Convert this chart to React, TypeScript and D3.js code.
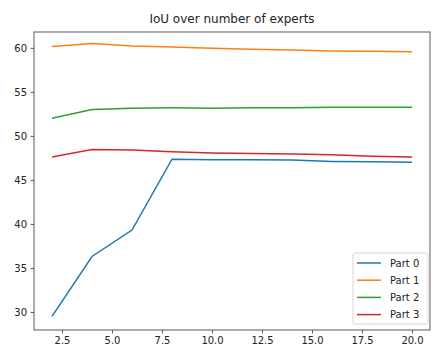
import { useEffect, useRef } from "react";
import { select, scaleLinear, line, axisBottom, axisLeft } from "d3";

const experts = [2, 4, 6, 8, 10, 12, 14, 16, 18, 20];
const part0 = [29.5, 36.3, 39.3, 47.35, 47.3, 47.3, 47.25, 47.1, 47.05, 47.0];
const part1 = [60.15, 60.5, 60.2, 60.1, 59.95, 59.85, 59.75, 59.65, 59.6, 59.55];
const part2 = [52.0, 53.0, 53.15, 53.2, 53.15, 53.2, 53.2, 53.25, 53.25, 53.25];
const part3 = [47.6, 48.45, 48.4, 48.2, 48.05, 48.0, 47.95, 47.85, 47.7, 47.6];
const seriesNames = ["Part 0", "Part 1", "Part 2", "Part 3"];
const xTicks = [2.5, 5.0, 7.5, 10.0, 12.5, 15.0, 17.5, 20.0];
const yTicks = [30, 35, 40, 45, 50, 55, 60];

const App = () => {
  const ref = useRef<HTMLDivElement>(null);

  useEffect(() => {
    if (!ref.current) return;
    ref.current.innerHTML = "";
    const W = 432, H = 347;
    const left = 34, right = 430, top = 32, bottom = 330;

    const svg = select(ref.current)
      .append("svg")
      .attr("width", W)
      .attr("height", H)
      .style("display", "block")
      .style("font-family", "DejaVu Sans, sans-serif");

    svg.append("rect").attr("width", W).attr("height", H).attr("fill", "#fff");

    const x = scaleLinear().domain([1.1, 20.9]).range([left, right]);
    const y = scaleLinear().domain([27.95, 61.8]).range([bottom, top]);

    // axes
    const xa = svg
      .append("g")
      .attr("transform", `translate(0,${bottom})`)
      .call(axisBottom(x).tickValues(xTicks).tickFormat((d) => (+d).toFixed(1)).tickSize(3.5).tickPadding(3.5));
    const ya = svg
      .append("g")
      .attr("transform", `translate(${left},0)`)
      .call(axisLeft(y).tickValues(yTicks).tickFormat((d) => String(d)).tickSize(3.5).tickPadding(3.5));
    [xa, ya].forEach((g) => {
      g.select(".domain").remove();
      g.selectAll("line").attr("stroke", "#333").attr("stroke-width", 0.8);
      g.selectAll("text").attr("fill", "#222").style("font-size", "10px").style("font-family", "DejaVu Sans, sans-serif");
    });

    // frame
    svg
      .append("rect")
      .attr("x", left)
      .attr("y", top)
      .attr("width", right - left)
      .attr("height", bottom - top)
      .attr("fill", "none")
      .attr("stroke", "#333")
      .attr("stroke-width", 0.8);

    const data = [part0, part1, part2, part3];
    const colors = ["#1f77b4", "#ff7f0e", "#2ca02c", "#d62728"];
    const l = line<number>()
      .x((_, i) => x(experts[i]))
      .y((d) => y(d));

    data.forEach((d, i) => {
      svg
        .append("path")
        .datum(d)
        .attr("d", l)
        .attr("fill", "none")
        .attr("stroke", colors[i])
        .attr("stroke-width", 1.5);
    });

    // title
    svg
      .append("text")
      .attr("x", (left + right) / 2)
      .attr("y", 23)
      .attr("text-anchor", "middle")
      .style("font-size", "12px")
      .attr("fill", "#222")
      .text("IoU over number of experts");

    // legend
    const lg = svg.append("g");
    lg.append("rect")
      .attr("x", 353)
      .attr("y", 253)
      .attr("width", 75)
      .attr("height", 71)
      .attr("rx", 2)
      .attr("fill", "#fff")
      .attr("fill-opacity", 0.8)
      .attr("stroke", "#ccc")
      .attr("stroke-width", 0.8);
    seriesNames.forEach((name, i) => {
      const yy = 263 + i * 17.2;
      lg.append("line")
        .attr("x1", 357)
        .attr("x2", 381)
        .attr("y1", yy)
        .attr("y2", yy)
        .attr("stroke", colors[i])
        .attr("stroke-width", 1.5);
      lg.append("text")
        .attr("x", 390)
        .attr("y", yy + 3.5)
        .style("font-size", "10px")
        .attr("fill", "#222")
        .text(name);
    });
  }, []);

  return <div ref={ref} style={{ position: "absolute", left: 0, top: 0 }}></div>;
};

export default App;
